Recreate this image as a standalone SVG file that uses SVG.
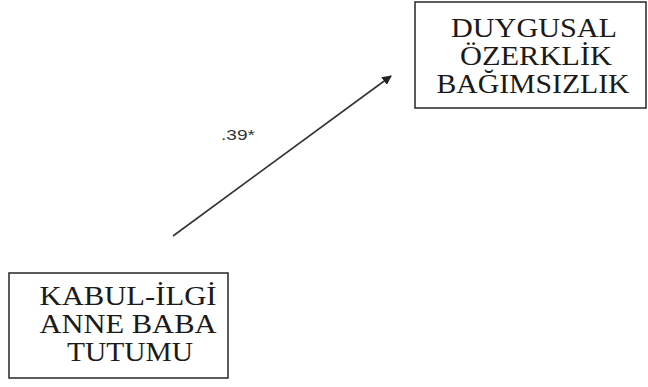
<svg xmlns="http://www.w3.org/2000/svg" width="648" height="387" viewBox="0 0 648 387">
<style>
.box{fill:#fff;stroke:#333;stroke-width:1.6}
.t{font-family:"Liberation Serif","DejaVu Serif","Times New Roman",serif;font-size:27px;fill:#1a1a1a;text-anchor:middle}
.lbl{font-family:"Liberation Sans",Arial,sans-serif;font-size:15px;fill:#333}
.edge{stroke:#333;stroke-width:1.6;fill:none}
</style>
<defs>
<marker id="ah" viewBox="0 0 10 10" refX="9" refY="5" markerWidth="6" markerHeight="6" orient="auto" markerUnits="strokeWidth">
<path d="M0,0 L10,5 L0,10 z" fill="#222"/>
</marker>
</defs>
<rect width="648" height="387" fill="#fff"/>
<g id="node-duygusal">
<rect class="box" x="415" y="2" width="231" height="106"/>
<text class="t" x="534" y="37" textLength="166" lengthAdjust="spacingAndGlyphs">DUYGUSAL</text>
<text class="t" x="536" y="65" textLength="152" lengthAdjust="spacingAndGlyphs">ÖZERKLİK</text>
<text class="t" x="533" y="93" textLength="193" lengthAdjust="spacingAndGlyphs">BAĞIMSIZLIK</text>
</g>
<g id="node-kabul">
<rect class="box" x="9" y="273" width="219" height="105"/>
<text class="t" x="128" y="305" textLength="177" lengthAdjust="spacingAndGlyphs">KABUL-İLGİ</text>
<text class="t" x="128" y="333" textLength="177" lengthAdjust="spacingAndGlyphs">ANNE BABA</text>
<text class="t" x="130" y="361" textLength="126" lengthAdjust="spacingAndGlyphs">TUTUMU</text>
</g>
<g id="connectors">
<line class="edge" x1="173" y1="236" x2="391" y2="76" marker-end="url(#ah)"/>
<text class="lbl" x="221" y="140" textLength="34" lengthAdjust="spacingAndGlyphs">.39*</text>
</g>
</svg>
